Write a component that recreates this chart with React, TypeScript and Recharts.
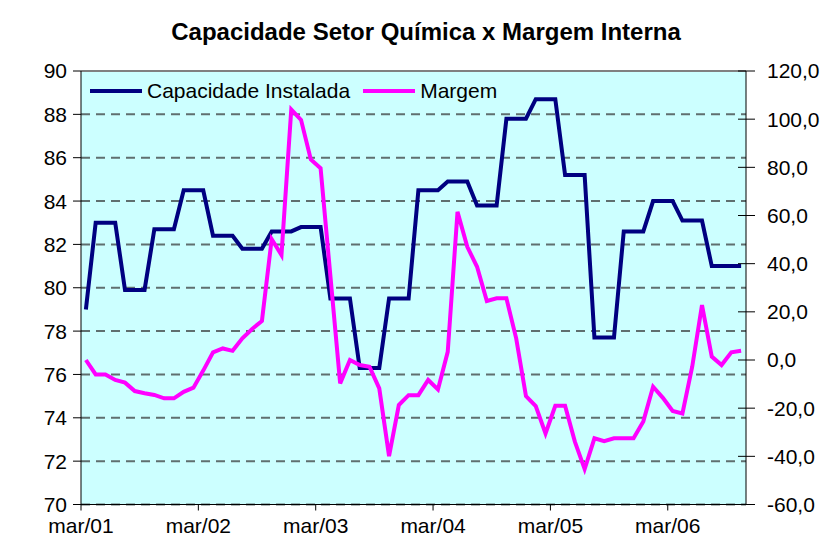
import React from "react";
import {
  LineChart,
  Line,
  XAxis,
  YAxis,
  CartesianGrid,
  ReferenceLine,
  Legend,
} from "recharts";

// monthly series, mar/01 .. out/06
const MONTHS = ["jan", "fev", "mar", "abr", "mai", "jun", "jul", "ago", "set", "out", "nov", "dez"];
const periods = Array.from({ length: 68 }, (_, i) => {
  const m = (2 + i) % 12;
  const y = 1 + Math.floor((2 + i) / 12);
  return `${MONTHS[m]}/${String(y).padStart(2, "0")}`;
});

const capacidade = [
  79.0,
  83.0, 83.0, 83.0,
  79.9, 79.9, 79.9,
  82.7, 82.7, 82.7,
  84.5, 84.5, 84.5,
  82.4, 82.4, 82.4,
  81.8, 81.8, 81.8,
  82.6, 82.6, 82.6,
  82.8, 82.8, 82.8,
  79.5, 79.5, 79.5,
  76.3, 76.3, 76.3,
  79.5, 79.5, 79.5,
  84.5, 84.5, 84.5,
  84.9, 84.9, 84.9,
  83.8, 83.8, 83.8,
  87.8, 87.8, 87.8,
  88.7, 88.7, 88.7,
  85.2, 85.2, 85.2,
  77.7, 77.7, 77.7,
  82.6, 82.6, 82.6,
  84.0, 84.0, 84.0,
  83.1, 83.1, 83.1,
  81.0, 81.0, 81.0, 81.0,
];

const margem = [
  0.0, -6.0, -6.0, -8.3, -9.4, -12.9, -13.8, -14.5, -15.9, -15.9,
  -13.2, -11.5, -4.4, 3.2, 4.8, 3.8, 9.0, 12.9, 16.2, 50.2,
  43.6, 104.0, 99.7, 83.3, 79.6, 35.0, -9.7, 0.0, -2.1, -2.8,
  -11.8, -39.9, -18.7, -14.6, -14.6, -8.3, -12.2, 3.4, 61.5, 47.0,
  38.7, 24.5, 25.6, 25.6, 9.0, -15.0, -19.1, -30.5, -19.0, -19.0,
  -33.9, -45.3, -32.5, -33.7, -32.5, -32.5, -32.5, -25.5, -11.1, -15.7,
  -21.2, -22.2, -2.8, 22.8, 1.4, -2.1, 3.2, 3.8,
];

const xTicks = [0, 12, 24, 36, 48, 60];
const leftTicks = [70, 72, 74, 76, 78, 80, 82, 84, 86, 88, 90];
const rightTicks = [-60, -40, -20, 0, 20, 40, 60, 80, 100, 120];

const data = periods.map((p, i) => ({
  x: i + 0.5,
  periodo: p,
  capacidade: capacidade[i],
  margem: margem[i],
}));

const FONT = "'Liberation Sans', Arial, sans-serif";
const BLUE = "#000080";
const PINK = "#FF00FF";

const RightTick = (props: any) => {
  const { x, y, payload } = props;
  const axisX = x - 12 - 9;
  return (
    <g>
      <line x1={axisX - 8} y1={y} x2={axisX} y2={y} stroke="#000" />
      <text x={x} y={y} dy="0.35em" textAnchor="start" fill="#000" fontSize={21} fontFamily={FONT}>
        {payload.value.toFixed(1).replace(".", ",")}
      </text>
    </g>
  );
};

const LegendContent = () => (
  <div style={{ display: "flex", alignItems: "center", fontFamily: FONT, fontSize: 21, color: "#000" }}>
    <svg width={52} height={10}>
      <line x1={0} y1={5} x2={52} y2={5} stroke={BLUE} strokeWidth={4} />
    </svg>
    <span style={{ marginLeft: 5, marginRight: 13 }}>Capacidade Instalada</span>
    <svg width={52} height={10}>
      <line x1={0} y1={5} x2={52} y2={5} stroke={PINK} strokeWidth={4} />
    </svg>
    <span style={{ marginLeft: 5 }}>Margem</span>
  </div>
);

export default function App() {
  return (
    <div style={{ position: "absolute", left: 0, top: 0, width: 832, height: 560, background: "#fff" }}>
      <div
        style={{
          position: "absolute",
          top: 18,
          left: 0,
          width: 852,
          textAlign: "center",
          fontFamily: FONT,
          fontWeight: "bold",
          fontSize: 24,
          color: "#000",
        }}
      >
        Capacidade Setor Química x Margem Interna
      </div>
      <LineChart
        width={832}
        height={560}
        data={data}
        margin={{ top: 71, right: 0, bottom: 25, left: 0 }}
        style={{ position: "absolute", left: 0, top: 0 }}
      >
        <CartesianGrid
          yAxisId="left"
          vertical={false}
          fill="#CCFFFF"
          stroke="#5f6f6f"
          strokeDasharray="9 6"
          strokeWidth={2}
        />
        <XAxis
          dataKey="x"
          type="number"
          domain={[0, 68]}
          ticks={xTicks}
          interval={0}
          tickFormatter={(v: number) => periods[v]}
          height={30.5}
          tickSize={6}
          tickMargin={8}
          stroke="#000"
          tick={{ fill: "#000", fontSize: 21, fontFamily: FONT }}
        />
        <YAxis
          yAxisId="left"
          domain={[70, 90]}
          ticks={leftTicks}
          interval={0}
          width={81}
          tickSize={8}
          tickMargin={6}
          stroke="#000"
          tick={{ fill: "#000", fontSize: 21, fontFamily: FONT }}
        />
        <YAxis
          yAxisId="right"
          orientation="right"
          domain={[-60, 120]}
          ticks={rightTicks}
          interval={0}
          width={86}
          tickSize={9}
          tickMargin={12}
          stroke="#000"
          tick={<RightTick />}
        />
        <ReferenceLine yAxisId="left" y={90} stroke="#808080" strokeWidth={2} />
        <Legend
          layout="vertical"
          align="center"
          verticalAlign="middle"
          content={<LegendContent />}
          wrapperStyle={{ top: 79, left: 90, width: "auto" }}
        />
        <Line
          yAxisId="left"
          dataKey="capacidade"
          name="Capacidade Instalada"
          stroke={BLUE}
          strokeWidth={4}
          dot={false}
          isAnimationActive={false}
        />
        <Line
          yAxisId="right"
          dataKey="margem"
          name="Margem"
          stroke={PINK}
          strokeWidth={4}
          dot={false}
          isAnimationActive={false}
        />
      </LineChart>
    </div>
  );
}
